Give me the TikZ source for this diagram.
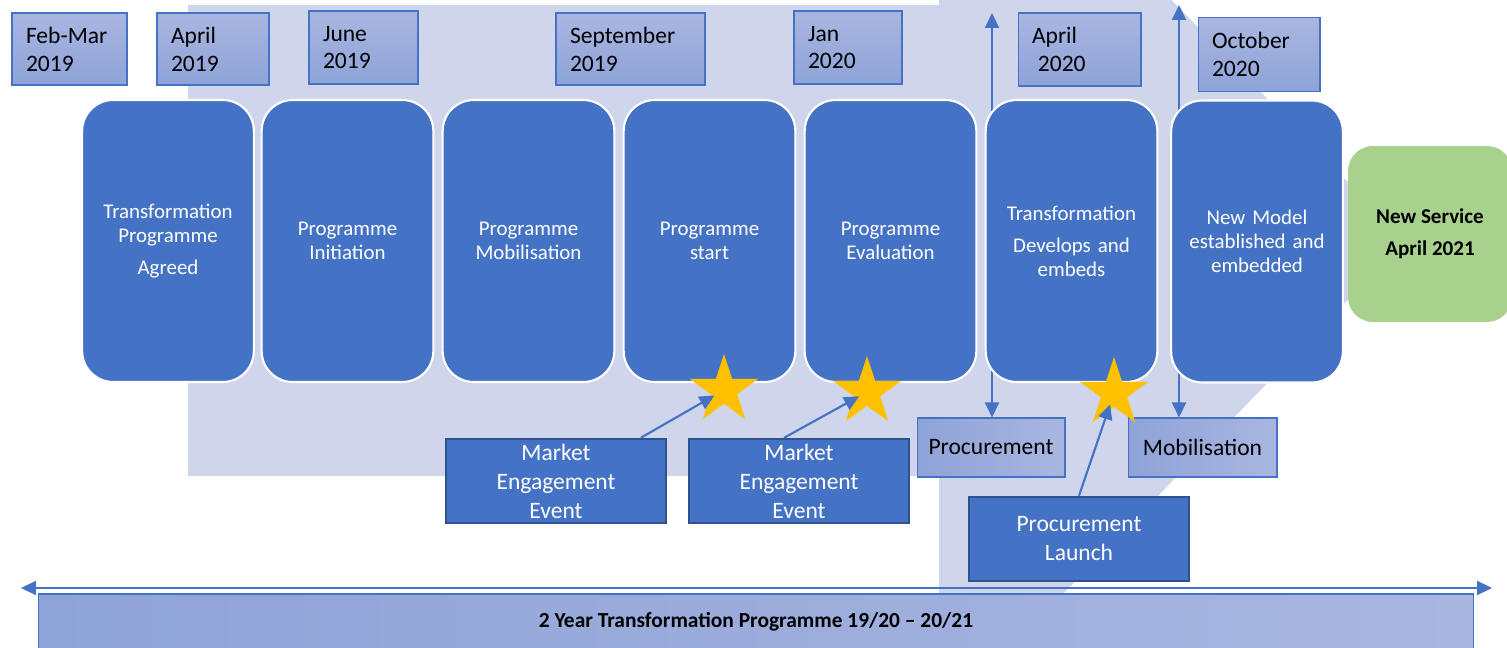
\documentclass[tikz,border=0pt]{standalone}
\usepackage{fontspec}
\setmainfont{Carlito}
\usetikzlibrary{arrows.meta,shapes.geometric}
\definecolor{phaseblue}{HTML}{4472C4}
\definecolor{edgeblue}{HTML}{2F528F}
\definecolor{lavender}{HTML}{CFD5EA}
\definecolor{datetop}{HTML}{A9B6E0}
\definecolor{datebot}{HTML}{8EA3D8}
\definecolor{servicegreen}{HTML}{A9D18E}
\definecolor{stargold}{HTML}{FFC000}
\tikzset{
  phase/.style={draw=white, line width=1.2pt, fill=phaseblue, rounded corners=0.62cm,
    minimum width=3.42cm, minimum height=5.64cm, text width=3.2cm, align=center,
    text=white, font=\fontsize{11.9}{13.7}\selectfont},
  datebox/.style={draw=phaseblue, line width=0.6pt, top color=datetop, bottom color=datebot,
    inner xsep=0.28cm, inner ysep=0pt, text width=#1, align=left,
    font=\fontsize{13.4}{15.9}\selectfont},
  subbox/.style={draw=phaseblue, line width=0.6pt, left color=datebot, right color=datetop,
    minimum height=1.18cm, inner sep=0pt, font=\fontsize{13.4}{15.9}\selectfont},
  eventbox/.style={draw=edgeblue, line width=1.4pt, fill=phaseblue, text=white,
    minimum width=4.4cm, minimum height=1.68cm, inner sep=0pt, align=center,
    font=\fontsize{13.4}{16.5}\selectfont},
  goldstar/.style={star, star points=5, star point ratio=2.6, fill=stargold,
    minimum size=1.44cm, inner sep=0pt},
  link/.style={draw=phaseblue, line width=1.2pt, -{Triangle[length=0.3cm, width=0.28cm]}},
  twoway/.style={draw=phaseblue, line width=1.2pt,
    {Triangle[length=0.3cm, width=0.28cm]}-{Triangle[length=0.3cm, width=0.28cm]}}
}
\begin{document}
\begin{tikzpicture}[x=0.02cm, y=-0.02cm]
  \clip (0,0) rectangle (1507,648);
  \fill[lavender] (188,5) -- (939,5) -- (939,-240) -- (1405,241) -- (939,722)
    -- (939,476) -- (188,476) -- cycle;

  \node[datebox=1.74cm, minimum height=1.44cm] (feb)  at (69.5,49)   {Feb-Mar\\2019};
  \node[datebox=1.68cm, minimum height=1.44cm] (apr)  at (213,49)    {April\\2019};
  \node[datebox=1.62cm, minimum height=1.46cm] (jun)  at (363.5,47.5) {June\\2019};
  \node[datebox=2.42cm, minimum height=1.44cm] (sep)  at (630.5,49)  {September\\2019};
  \node[datebox=1.60cm, minimum height=1.46cm] (jan)  at (848,47.5)  {Jan\\2020};
  \node[datebox=1.90cm, minimum height=1.46cm] (apr2) at (1079.5,49.5) {April\\\hspace*{0.25em}2020};
  \node[datebox=1.88cm, minimum height=1.48cm] (oct)  at (1259,54.5) {October\\2020};

  \node[subbox, minimum width=2.96cm] (proc) at (991,447.5)    {Procurement};
  \node[subbox, minimum width=2.98cm] (mob)  at (1202.5,447.5) {Mobilisation};

  \coordinate (vtop1) at (992,13);
  \coordinate (vtop2) at (1179,5);
  \draw[twoway] (vtop1) -- (vtop1 |- proc.north);
  \draw[twoway] (vtop2) -- (vtop2 |- mob.north);

  \node[phase] (agreed)  at (168,241)    {Transformation\\Programme\\[4pt]Agreed};
  \node[phase] (init)    at (347.5,241)  {Programme\\Initiation};
  \node[phase] (mobil)   at (528.5,241)  {Programme\\Mobilisation};
  \node[phase] (start)   at (709.5,241)  {Programme\\start};
  \node[phase] (eval)    at (890.5,241)  {Programme\\Evaluation};
  \node[phase] (embed)   at (1071.5,241) {Transformation\\[4.5pt]Develops and\\embeds};
  \node[phase] (model)   at (1257,241.5) {New Model\\established and\\embedded};
  \node[fill=servicegreen, rounded corners=0.5cm, minimum width=3.28cm, minimum height=3.52cm,
    align=center, font=\bfseries\fontsize{12}{14.4}\selectfont] (service) at (1430,234)
    {New Service\\[3.8pt]April 2021};

  \node[goldstar] (st1) at (724,390) {};
  \node[goldstar] (st2) at (867,392) {};
  \node[goldstar] (st3) at (1114,393) {};

  \node[eventbox] (mkt1)   at (556,481)  {Market\\Engagement\\Event};
  \node[eventbox] (mkt2)   at (799,481)  {Market\\Engagement\\Event};
  \node[eventbox] (launch) at (1079,539) {Procurement\\Launch};

  \draw[link, shorten >=0.22cm] (mkt1.27) -- (st1.center);
  \draw[link, shorten >=0.18cm] (mkt2.109) -- (st2.center);
  \draw[link, shorten >=0.24cm] (launch.north) -- (st3.center);

  \coordinate (larr) at (21,588);
  \coordinate (rarr) at (1492,588);
  \draw[twoway] (larr) -- (rarr);
  \node[draw=phaseblue, line width=0.6pt, left color=datebot, right color=datetop,
    minimum width=28.72cm, minimum height=1.12cm,
    font=\bfseries\fontsize{12.2}{14.6}\selectfont] (span) at (756,622)
    {2 Year Transformation Programme 19/20 -- 20/21};
\end{tikzpicture}
\end{document}
